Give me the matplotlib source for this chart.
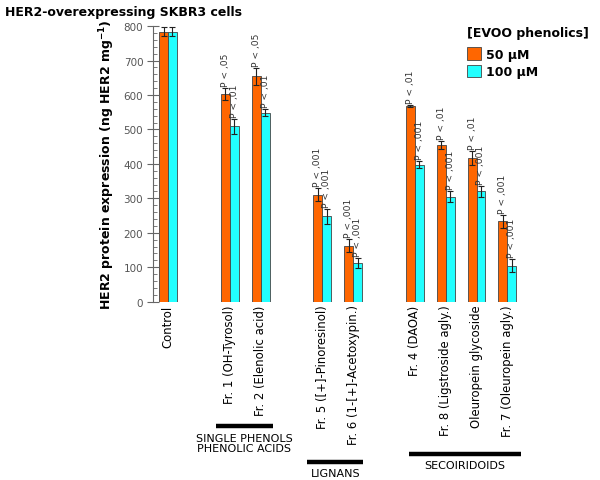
import matplotlib
matplotlib.use("Agg")
import matplotlib.pyplot as plt
import matplotlib.transforms as mtransforms
from matplotlib.ticker import MultipleLocator
import numpy as np

# Data
labels = ["Control", "Fr. 1 (OH-Tyrosol)", "Fr. 2 (Elenolic acid)",
          "Fr. 5 ([+]-Pinoresinol)", "Fr. 6 (1-[+]-Acetoxypin.)",
          "Fr. 4 (DAOA)", "Fr. 8 (Ligstroside agly.)",
          "Oleuropein glycoside", "Fr. 7 (Oleuropein agly.)"]
slots = [0, 2, 3, 5, 6, 8, 9, 10, 11]
val_50 = [784, 603, 654, 311, 163, 568, 455, 417, 233]
err_50 = [14, 18, 25, 20, 18, 3, 12, 20, 18]
val_100 = [784, 509, 549, 248, 112, 398, 305, 320, 104]
err_100 = [14, 22, 10, 22, 15, 10, 16, 15, 19]
p_50 = ["", "P < ,05", "P < ,05", "P < ,001", "P < ,001", "P < ,01", "P < ,01", "P < ,01", "P < ,001"]
p_100 = ["", "P < ,01", "P < ,01", "P < ,001", "P < ,001", "P < ,001", "P < ,001", "P < ,001", "P < ,001"]

groups = [("SINGLE PHENOLS\nPHENOLIC ACIDS", 1.55, 3.4, -0.450, -0.512),
          ("LIGNANS", 4.51, 6.33, -0.581, -0.622),
          ("SECOIRIDOIDS", 7.82, 11.43, -0.552, -0.594)]

orange = "#FF6600"
cyan = "#22FFFF"

fig = plt.figure(figsize=(6, 4.81), dpi=100)
ax = fig.add_axes([0.255, 0.3707, 0.678, 0.573])

x = np.array(slots, dtype=float)
w = 0.29
b1 = ax.bar(x - w / 2, val_50, w, color=orange, edgecolor="#444444", linewidth=0.6, label="50 \u00b5M")
b2 = ax.bar(x + w / 2, val_100, w, color=cyan, edgecolor="#444444", linewidth=0.6, label="100 \u00b5M")
ax.errorbar(x - w / 2, val_50, yerr=err_50, fmt="none", ecolor="#222222", elinewidth=0.8, capsize=2.2, capthick=0.8)
ax.errorbar(x + w / 2, val_100, yerr=err_100, fmt="none", ecolor="#222222", elinewidth=0.8, capsize=2.2, capthick=0.8)

# P-value annotations
for xi, v, e, t in zip(x - w / 2, val_50, err_50, p_50):
    if t:
        ax.text(xi, v + e + 6, t, rotation=90, ha="center", va="bottom", fontsize=6.6, color="#333333")
for xi, v, e, t in zip(x + w / 2, val_100, err_100, p_100):
    if t:
        ax.text(xi, v + e + 6, t, rotation=90, ha="center", va="bottom", fontsize=6.6, color="#333333")

ax.set_xlim(-0.487, 12.7)
ax.set_ylim(0, 800)
ax.set_xticks(x)
ax.set_xticklabels(labels, rotation=90, fontsize=8.4)
ax.tick_params(axis="x", length=0, pad=2)
ax.yaxis.set_major_locator(MultipleLocator(100))
ax.yaxis.set_minor_locator(MultipleLocator(20))
ax.tick_params(axis="y", which="major", direction="inout", length=8, color="#666666", labelsize=7.5, labelcolor="#555555", pad=3)
ax.tick_params(axis="y", which="minor", direction="in", length=3, color="#666666")
for s in ["top", "right", "bottom"]:
    ax.spines[s].set_visible(False)
ax.spines["left"].set_color("#666666")

ax.set_ylabel("HER2 protein expression (ng HER2 mg$^{\\mathbf{-1}}$)", fontsize=9, fontweight="bold", labelpad=5)

# Group brackets under the category labels
trans = mtransforms.blended_transform_factory(ax.transData, ax.transAxes)
for name, x0, x1, yl, yt in groups:
    ax.plot([x0, x1], [yl, yl], color="black", linewidth=3.2, transform=trans, clip_on=False, solid_capstyle="butt")
    ax.text((x0 + x1) / 2, yt, name, transform=trans, ha="center", va="center", fontsize=8, linespacing=0.95)

fig.text(0.008, 0.988, "HER2-overexpressing SKBR3 cells", fontsize=9, fontweight="bold", va="top", ha="left")

# Legend
fig.text(0.778, 0.943, "[EVOO phenolics]", fontsize=9, fontweight="bold", va="top", ha="left")
leg = ax.legend(handles=[b1, b2], loc="upper left",
                bbox_to_anchor=(0.778, 0.900), bbox_transform=fig.transFigure,
                frameon=False, prop={"weight": "bold", "size": 9},
                handlelength=1.1, handleheight=1.15, handletextpad=0.45,
                labelspacing=0.35, borderpad=0, borderaxespad=0)

fig.savefig("out.png", dpi=100)
